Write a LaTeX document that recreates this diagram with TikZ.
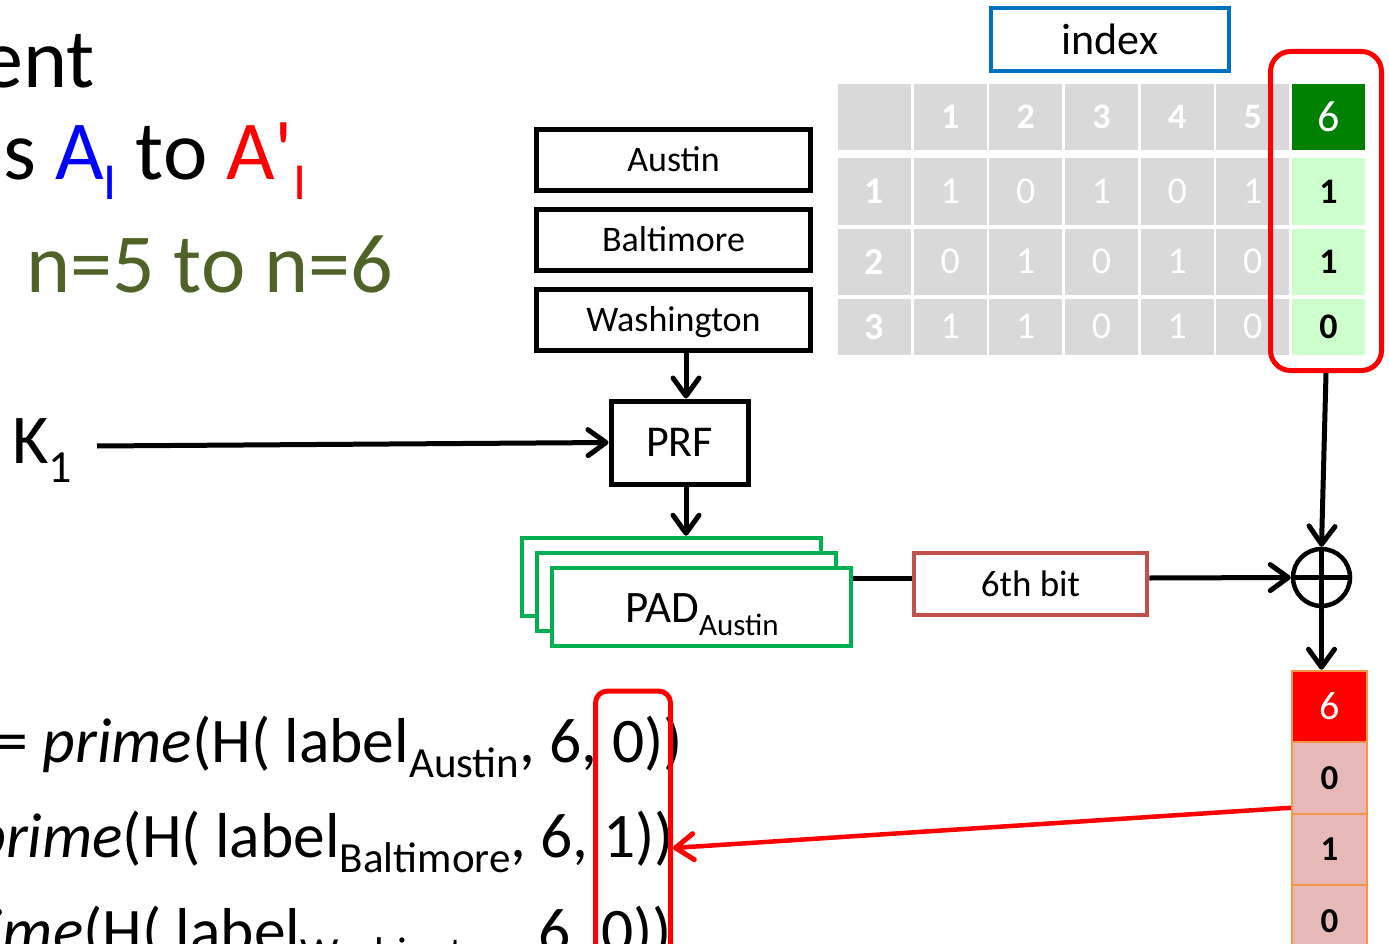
\documentclass[tikz,border=0pt]{standalone}
\usepackage{fontspec}
\setmainfont{Carlito}
\usetikzlibrary{arrows.meta}

\definecolor{cellgray}{HTML}{D9D9D9}
\definecolor{hdrgreen}{HTML}{008000}
\definecolor{palegreen}{HTML}{CCFFCC}
\definecolor{pinkcell}{HTML}{E6B9B8}
\definecolor{cellorange}{HTML}{F79646}
\definecolor{indexblue}{HTML}{0070C0}
\definecolor{padgreen}{HTML}{00B050}
\definecolor{bitred}{HTML}{C0504D}
\definecolor{olivetext}{HTML}{4F6228}
\definecolor{pureblue}{HTML}{0000FF}
\definecolor{purered}{HTML}{FF0000}

\newcommand{\fsz}[1]{\fontsize{#1pt}{#1pt}\selectfont}
\newcommand{\lowtext}[3]{\raisebox{-#2pt}{\fsz{#1}#3}}

\begin{document}
\begin{tikzpicture}[x=1pt, y=-1pt,
  blackbox/.style={draw=black, line width=5pt, fill=white, inner sep=0pt, text depth=0pt},
  namebox/.style={blackbox, minimum width=274pt, minimum height=61pt, font=\fsz{36}, text height=23pt},
  padbox/.style={draw=padgreen, line width=4.5pt, fill=white, minimum width=299pt, minimum height=78pt},
  gcell/.style={fill=cellgray, minimum width=73pt, inner sep=0pt},
  hdrtxt/.style={text=white, font=\bfseries\fsz{36}},
  valtxt/.style={text=white, font=\fsz{38}},
  selcell/.style={fill=palegreen, minimum width=73pt, inner sep=0pt, font=\bfseries\fsz{36}},
  stackcell/.style={draw=cellorange, line width=2pt, fill=pinkcell, minimum width=75pt,
    minimum height=71.5pt, inner sep=0pt, font=\bfseries\fsz{35}},
  barb/.tip={Straight Barb[length=18pt,width=26pt,line width=5pt 0,round]},
  arr/.style={draw=black, line width=5pt, -barb},
  redarr/.style={draw=purered, line width=4.5pt, -barb}
]
\useasboundingbox (0,0) rectangle (1389,944);

% ---------------- headline text ----------------
\node[anchor=base east, font=\fsz{84}, inner sep=0pt] (head1) at (95,88) {ent};
\node[anchor=base west, font=\fsz{84}, inner sep=0pt] (head2) at (3,180)
  {s {\color{pureblue}A\lowtext{52}{20}{I}} to {\color{purered}A\textquotesingle\lowtext{52}{20}{I}}};
\node[anchor=base west, font=\fsz{84}, inner sep=0pt, text=olivetext] (head3) at (26,292) {n=5 to n=6};

% ---------------- index table ----------------
\node[draw=indexblue, line width=4.5pt, minimum width=238pt, minimum height=63pt,
  inner sep=0pt, font=\fsz{44}, text height=31pt, text depth=0pt] (index) at (1110,39.5) {index};

\foreach \r/\cy/\h in {0/117/66, 1/191.5/67, 2/261.75/66.5, 3/326.75/56.5}
  \foreach \c in {0,...,5}
    \node[gcell, minimum height=\h pt] (t\r-\c) at ({874.5+75.67*\c},\cy) {};

\foreach \c in {1,...,5} \node[hdrtxt] at (t0-\c) {\c};
\foreach \r in {1,2,3} \node[hdrtxt, font=\bfseries\fsz{38}] at (t\r-0) {\r};
\foreach \v [count=\c] in {1,0,1,0,1} \node[valtxt] at (t1-\c) {\v};
\foreach \v [count=\c] in {0,1,0,1,0} \node[valtxt] at (t2-\c) {\v};
\foreach \v [count=\c] in {1,1,0,1,0} \node[valtxt] at (t3-\c) {\v};

\node[fill=hdrgreen, minimum width=73pt, minimum height=66pt, inner sep=0pt,
  text=white, font=\fsz{44}] (s0) at (1328.5,117) {6};
\node[selcell, minimum height=67pt] (s1) at (1328.5,191.5) {1};
\node[selcell, minimum height=66.5pt] (s2) at (1328.5,261.75) {1};
\node[selcell, minimum height=56.5pt] (s3) at (1328.5,326.75) {0};

\node[draw=purered, line width=5pt, rounded corners=20pt, minimum width=111pt,
  minimum height=319pt, inner sep=0pt] (selcol) at (1326,211) {};

% ---------------- keyword boxes and PRF ----------------
\node[namebox] (austin) at (673.5,160) {Austin};
\node[namebox] (baltimore) at (673.5,240) {Baltimore};
\node[namebox] (washington) at (673.5,320) {Washington};

\node[blackbox, minimum width=137pt, minimum height=83pt, font=\fsz{44}, text height=28pt]
  (prf) at (679.5,442.5) {PRF};
\coordinate (spine) at (686,0);

\node[anchor=base west, font=\fsz{70}, inner sep=0pt] (key) at (12,463) {K\lowtext{46}{19}{1}};
\coordinate (keyout) at (97,446);

% ---------------- pads ----------------
\node[padbox] (pad3) at (671.5,577) {};
\node[padbox] (pad2) at (686.5,592) {};
\node[padbox] (pad1) at (701.5,607) {};
\node[anchor=base, font=\fsz{45}, inner sep=0pt] (padtext) at (702,622) {PAD\lowtext{31}{13}{Austin}};

\node[draw=bitred, line width=4.5pt, minimum width=233pt, minimum height=62pt, inner sep=0pt,
  font=\fsz{37}, text height=24pt, text depth=0pt] (sixth) at (1030.5,584) {6th bit};

\node[circle, draw=black, line width=4.5pt, minimum size=57pt, inner sep=0pt] (xor) at (1321.5,577.5) {};
\draw[line width=4.5pt] (xor.north) -- (xor.south) (xor.west) -- (xor.east);
\coordinate (lane) at (0,578);

% ---------------- updated column ----------------
\node[stackcell, fill=purered, text=white, font=\fsz{40}] (b0) at (1329.5,706.5) {6};
\node[stackcell] (b1) at (1329.5,778) {0};
\node[stackcell] (b2) at (1329.5,849.5) {1};
\node[stackcell] (b3) at (1329.5,921) {0};

% ---------------- prime equations ----------------
\node[anchor=base east, font=\fsz{63.5}, inner sep=0pt] (eq1) at (683,762)
  {= \textit{prime}(H( label\lowtext{43}{15}{Austin}, 6, 0))};
\node[anchor=base east, font=\fsz{63.5}, inner sep=0pt] (eq2) at (674,857)
  {\textit{prime}(H( label\lowtext{43}{15}{Baltimore}, 6, 1))};
\node[anchor=base east, font=\fsz{63.5}, inner sep=0pt] (eq3) at (672,952)
  {\textit{prime}(H( label\lowtext{43}{15}{Washington}, 6, 0))};

\node[draw=purered, line width=5pt, rounded corners=12pt, minimum width=75pt,
  minimum height=400pt, inner sep=0pt, anchor=north] (digitbox) at (633,688.5) {};
\coordinate (hit) at (digitbox.east |- 0,848);

% ---------------- connectors ----------------
\draw[arr] (washington.south -| spine) -- (prf.north -| spine);
\draw[arr] (keyout) -- (prf.west);
\draw[arr] (prf.south -| spine) -- (pad3.north -| spine);
\draw[line width=5pt] (pad1.east |- lane) -- (sixth.west |- lane);
\draw[arr] (sixth.east |- lane) -- (xor.west);
\draw[arr] (selcol.south) -- (xor.north);
\draw[arr] (xor.south) -- (xor.south |- b0.north);
\draw[redarr] ([yshift=7pt]b1.south west) -- (hit);
\end{tikzpicture}
\end{document}
